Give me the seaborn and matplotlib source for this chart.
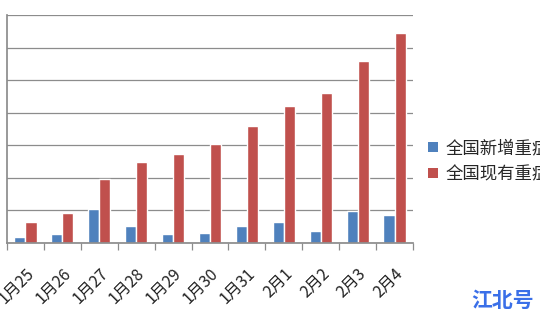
import matplotlib
matplotlib.use("Agg")
import matplotlib.pyplot as plt
import seaborn as sns
import pandas as pd
from matplotlib.patches import Patch

dates = ["1月25", "1月26", "1月27", "1月28", "1月29", "1月30", "1月31", "2月1", "2月2", "2月3", "2月4"]
new_severe = [87, 137, 515, 263, 131, 158, 262, 315, 186, 492, 431]
current_severe = [324, 461, 976, 1239, 1370, 1527, 1795, 2110, 2296, 2788, 3219]
series_names = ["全国新增重症", "全国现有重症"]
colors = ["#4F81BD", "#C0504D"]

sns.set_theme(style="white")
plt.rcParams["font.family"] = ["Noto Sans CJK SC", "DejaVu Sans"]

df = pd.DataFrame({
    "date": dates * 2,
    "value": new_severe + current_severe,
    "series": [series_names[0]] * len(dates) + [series_names[1]] * len(dates),
})

fig = plt.figure(figsize=(5.4, 3.2), dpi=100)
ax = fig.add_axes([7 / 540, 1 - 243 / 320, 406 / 540, 228 / 320])
sns.barplot(data=df, x="date", y="value", hue="series", palette=colors,
            width=0.6, ax=ax, legend=False, saturation=1)

ax.set_ylim(0, 3500)
ax.set_xlim(-0.5, len(dates) - 0.5)
ax.set_yticks(range(0, 3501, 500))
ax.set_yticklabels([])
ax.yaxis.grid(True, color="#8c8c8c", linewidth=0.9)
ax.set_axisbelow(True)
ax.set_xlabel("")
ax.set_ylabel("")
for s in ["top", "right"]:
    ax.spines[s].set_visible(False)
ax.spines["left"].set_color("#8c8c8c")
ax.spines["bottom"].set_color("#8c8c8c")
ax.tick_params(axis="y", length=0)
ax.tick_params(axis="x", which="major", length=0, pad=16)
ax.set_xticks([i - 0.5 for i in range(len(dates) + 1)], minor=True)
ax.tick_params(axis="x", which="minor", length=5, color="#8c8c8c", width=0.9, direction="out")
ax.xaxis.set_ticks_position("bottom")
for lbl in ax.get_xticklabels():
    lbl.set_rotation(45)
    lbl.set_ha("right")
    lbl.set_rotation_mode("anchor")
    lbl.set_fontsize(11.5)
    lbl.set_color("#222222")
    lbl.set_x(lbl.get_position()[0])

handles = [Patch(facecolor=c, edgecolor="none") for c in colors]
fig.legend(handles, series_names, loc="center left", bbox_to_anchor=(428 / 540, 1 - 161 / 320),
           frameon=False, fontsize=12.5, handlelength=0.55, handleheight=0.55,
           handletextpad=0.45, labelspacing=0.45, borderaxespad=0, borderpad=0)

fig.text(503 / 540, 1 - 300 / 320, "江北号", color="#3a6fe8", fontsize=15,
         fontweight="bold", ha="center", va="center")

fig.savefig("out.png", dpi=100)
